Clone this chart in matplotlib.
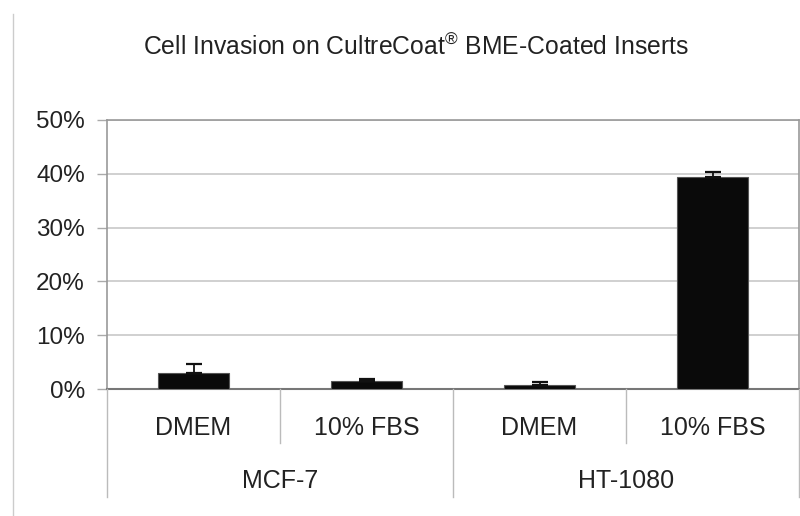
import matplotlib
matplotlib.use("Agg")
import matplotlib.pyplot as plt
from matplotlib.lines import Line2D

plt.rcParams['font.family'] = ['Liberation Sans', 'DejaVu Sans']
plt.rcParams['mathtext.fontset'] = 'custom'
plt.rcParams['mathtext.rm'] = 'Liberation Sans'
plt.rcParams['mathtext.it'] = 'Liberation Sans'

conditions = ["DMEM", "10% FBS", "DMEM", "10% FBS"]
cell_lines = ["MCF-7", "HT-1080"]
values = [3.0, 1.5, 0.8, 39.4]
errors = [1.6, 0.3, 0.55, 1.0]
yticks = [0, 10, 20, 30, 40, 50]
ytick_labels = ["0%", "10%", "20%", "30%", "40%", "50%"]
title = r"Cell Invasion on CultreCoat$^{\circledR}$ BME-Coated Inserts"

W, H = 800, 516
fig = plt.figure(figsize=(W / 100, H / 100), dpi=100)
ax = fig.add_axes([107 / W, 1 - 389 / H, (799 - 107) / W, (389 - 120) / H])

x = list(range(len(values)))
ax.bar(x, values, width=0.41, color="#0a0a0a", edgecolor="#555555", linewidth=0.8, zorder=3)
ax.errorbar(x, values, yerr=[[0] * len(errors), errors], fmt="none", ecolor="#111111",
            elinewidth=1.3, capsize=5.5, capthick=1.6, zorder=4)

ax.set_xlim(-0.5, 3.5)
ax.set_ylim(0, 50)
ax.set_yticks(yticks)
ax.set_yticklabels(ytick_labels, fontsize=17.5, color="#222222")
ax.tick_params(axis="y", length=7, width=1, color="#aaaaaa", pad=9)
ax.set_xticks([])
ax.grid(axis="y", color="#c8c8c8", linewidth=1.2, zorder=0)
for s in ["top", "right", "left"]:
    ax.spines[s].set_color("#999999")
    ax.spines[s].set_linewidth(1.2)
ax.spines["bottom"].set_color("#777777")
ax.spines["bottom"].set_linewidth(1.5)

# Category label area below the axis
def fy(py):
    return 1 - py / H

def fx_data(xd):
    return (107 + (xd + 0.5) / 4 * (799 - 107)) / W

for xd in [0.5, 2.5]:
    fig.add_artist(Line2D([fx_data(xd)] * 2, [fy(389), fy(443)], color="#bbbbbb", linewidth=1))
for xd in [-0.5, 1.5, 3.5]:
    fig.add_artist(Line2D([fx_data(xd)] * 2, [fy(389), fy(497)], color="#bbbbbb", linewidth=1))

for i, c in enumerate(conditions):
    fig.text(fx_data(i), fy(428), c, ha="center", va="center", fontsize=18, color="#222222")
for j, cl in enumerate(cell_lines):
    fig.text(fx_data(2 * j + 0.5), fy(481), cl, ha="center", va="center", fontsize=18, color="#222222")

# outer chart border on the left
fig.add_artist(Line2D([13 / W] * 2, [fy(14), fy(516)], color="#cccccc", linewidth=1))

fig.text(416 / W, fy(47), title, ha="center", va="center", fontsize=17.8, color="#222222")

fig.savefig("out.png", dpi=100)
